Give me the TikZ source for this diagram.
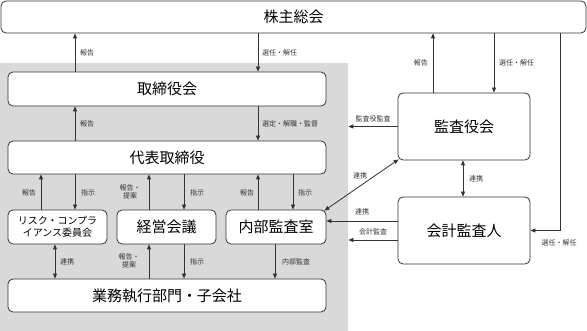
\documentclass[tikz,border=0pt]{standalone}
\usepackage{fontspec}
\setmainfont{Noto Sans CJK JP}
\usetikzlibrary{arrows.meta,calc}
\definecolor{bggray}{HTML}{D9D9D9}
\definecolor{ln}{HTML}{333333}
\tikzset{
  box/.style={draw=ln,line width=0.8pt,fill=white,rounded corners=5pt,inner sep=0pt,
    font=\fontsize{15}{18}\selectfont},
  smallbox/.style={box,font=\fontsize{10}{12}\selectfont,align=center},
  arr/.style={draw=ln,line width=0.8pt,-{Triangle[length=5pt,width=4pt]}},
  darr/.style={draw=ln,line width=0.8pt,{Triangle[length=5pt,width=4pt]}-{Triangle[length=5pt,width=4pt]}},
  lab/.style={font=\fontsize{7}{8}\selectfont,inner sep=0pt,align=center,text=ln}
}
\begin{document}
\begin{tikzpicture}[x=1pt,y=-1pt]
\useasboundingbox (0,0) rectangle (587,331);
\node[fill=bggray,minimum width=348pt,minimum height=268pt,inner sep=0pt,anchor=north west] (bg) at (0,63) {};
% boxes
\node[box,minimum width=585pt,minimum height=32pt] (kabu) at (293.5,17) {株主総会};
\node[box,minimum width=318pt,minimum height=34pt] (tori) at (167,89) {取締役会};
\node[box,minimum width=318pt,minimum height=33pt] (daihyo) at (167,157.5) {代表取締役};
\node[smallbox,minimum width=99pt,minimum height=34pt] (risk) at (57.5,227) {リスク・コンプラ\\イアンス委員会};
\node[box,minimum width=99pt,minimum height=34pt] (keiei) at (166.5,227) {経営会議};
\node[box,minimum width=100pt,minimum height=34pt] (naibu) at (276,227) {内部監査室};
\node[box,minimum width=318pt,minimum height=33pt] (gyomu) at (167,295.5) {業務執行部門・子会社};
\node[box,minimum width=132pt,minimum height=67pt] (kansa) at (464,126.5) {監査役会};
\node[box,minimum width=132pt,minimum height=67pt] (kaikei) at (464,230.5) {会計監査人};
% top arrows
\draw[arr] (tori.north -| 75,0) -- (kabu.south -| 75,0);
\node[lab,anchor=west] (l1) at (80,53) {報告};
\draw[arr] (kabu.south -| 258,0) -- (tori.north -| 258,0);
\node[lab,anchor=west] (l2) at (262,53) {選任・解任};
\draw[arr] (daihyo.north -| 75,0) -- (tori.south -| 75,0);
\node[lab,anchor=west] (l3) at (80,124) {報告};
\draw[arr] (tori.south -| 258,0) -- (daihyo.north -| 258,0);
\node[lab,anchor=west] (l4) at (262,124) {選定・解職・監督};
% kansa
\draw[arr] (kansa.north -| 433,0) -- (kabu.south -| 433,0);
\node[lab,anchor=east] (l5) at (428,63) {報告};
\draw[arr] (kabu.south -| 494,0) -- (kansa.north -| 494,0);
\node[lab,anchor=west] (l6) at (499,63) {選任・解任};
\draw[arr] (kansa.west) -- (bg.east |- kansa.west);
\node[lab] (l7) at (373,119) {監査役監査};
\draw[darr] ($(kansa.south west)+(1,-1)$) -- ($(naibu.north east)+(-2,1)$);
\node[lab] (l8) at (360,176) {連携};
\draw[darr] (kansa.south -| 463,0) -- (kaikei.north -| 463,0);
\node[lab,anchor=west] (l9) at (469,179) {連携};
\draw[arr] (kaikei.west |- 0,221) -- (naibu.east |- 0,221);
\node[lab] (l10) at (362,212) {連携};
\draw[arr] (kaikei.west |- 0,240) -- (bg.east |- 0,240);
\node[lab] (l11) at (373,232) {会計監査};
\draw[arr] (kabu.south -| 560,0) |- (kaikei.east);
\node[lab] (l12) at (559,243) {選任・解任};
% middle arrows
\draw[arr] (risk.north -| 41,0) -- (daihyo.south -| 41,0);
\node[lab] (l13) at (29,193) {報告};
\draw[arr] (daihyo.south -| 75,0) -- (risk.north -| 75,0);
\node[lab] (l14) at (88,193) {指示};
\draw[arr] (keiei.north -| 149,0) -- (daihyo.south -| 149,0);
\node[lab] (l15) at (130,192) {報告・\\提案};
\draw[arr] (daihyo.south -| 184,0) -- (keiei.north -| 184,0);
\node[lab] (l16) at (197,193) {指示};
\draw[arr] (naibu.north -| 258,0) -- (daihyo.south -| 258,0);
\node[lab] (l17) at (247,193) {報告};
\draw[arr] (daihyo.south -| 293,0) -- (naibu.north -| 293,0);
\node[lab] (l18) at (305,193) {指示};
% bottom arrows
\draw[darr] (risk.south -| 55,0) -- (gyomu.north -| 55,0);
\node[lab] (l19) at (67,262) {連携};
\draw[arr] (gyomu.north -| 149,0) -- (keiei.south -| 149,0);
\node[lab] (l20) at (129,261) {報告・\\提案};
\draw[arr] (keiei.south -| 184,0) -- (gyomu.north -| 184,0);
\node[lab] (l21) at (197,262) {指示};
\draw[arr] (naibu.south -| 275,0) -- (gyomu.north -| 275,0);
\node[lab] (l22) at (296,262) {内部監査};
\end{tikzpicture}
\end{document}
